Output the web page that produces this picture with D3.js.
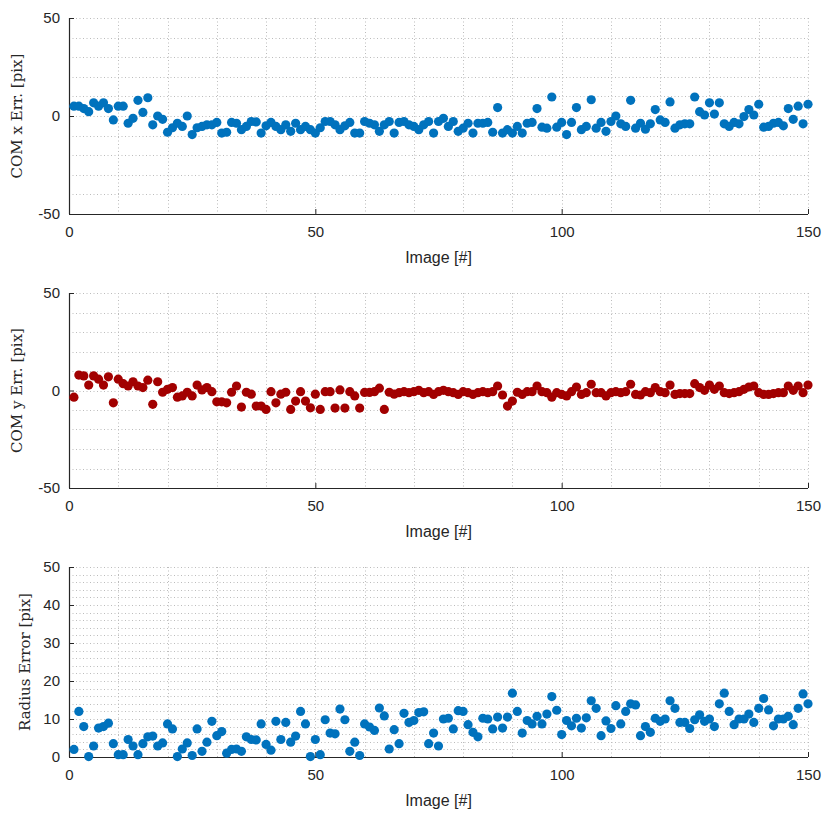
<!DOCTYPE html>
<html>
<head>
<meta charset="utf-8">
<script src="https://cdn.jsdelivr.net/npm/d3@7"></script>
<style>
  body { margin: 0; background: #fff; }
  svg { display: block; }
</style>
</head>
<body>
<div id="chart"></div>
<script>
// image index 1..150
const images = d3.range(1, 151);

const comXErr = [
  5, 5, 3.8, 2.2, 6.7, 5, 6.7, 3.8, -2, 5,
  5, -3.7, -1.2, 8, 1.8, 9.3, -4.5, 0, -1.7, -8.3,
  -6, -3.7, -5.3, 0, -9.5, -6, -5.3, -4.5, -4.5, -3.3,
  -8.7, -8.3, -3.3, -3.7, -7, -5.3, -2.8, -3, -8.7, -5,
  -3.3, -5.3, -7, -4.5, -7.8, -3.7, -7, -5.3, -7, -8.7,
  -6, -2.8, -2.8, -4.5, -7, -5, -3.3, -8.7, -8.7, -2.8,
  -3.7, -4.5, -7.8, -4.5, -2.8, -8.7, -3.3, -2.8, -4.5, -5.3,
  -7, -4.5, -2.8, -8.7, -2.8, -1.2, -5.3, -2.8, -7.8, -6.2,
  -3.7, -8.7, -3.7, -3.7, -3.3, -8.3, 4.3, -8.7, -7, -8.7,
  -5.3, -8.7, -3.7, -3.3, 3.8, -5.7, -6.2, 9.7, -5.7, -3.3,
  -9.5, -3.3, 4.3, -7, -5.3, 8.3, -6.2, -3.3, -7.8, -2.8,
  0, -4, -5.3, 8, -6.2, -3.7, -6.7, -4, 3.3, -2,
  -3.3, 7.2, -6.2, -4.5, -4, -4, 9.7, 2.2, 0.5, 6.7,
  1, 6.7, -4, -5.3, -3.3, -4, -0.3, 3.3, 0.5, 6,
  -5.7, -5.3, -3.7, -3.3, -5, 3.8, -1.7, 5, -4, 6
];

const comYErr = [
  -3.4, 7.9, 7.5, 2.8, 7.5, 5.8, 2.8, 7, -6.3, 5.8,
  3.5, 2.3, 4.5, 2.3, 1.5, 5.3, -7.1, 4.5, -0.9, 0.6,
  1.5, -3.4, -2.8, -0.9, -2.8, 2.8, 0.3, 1.5, -0.6, -5.8,
  -5.8, -6.3, -0.9, 2.3, -8.5, -0.9, -1.9, -8, -8, -9.7,
  -0.6, -6.3, -1.9, -0.9, -9.7, -5.4, -0.6, -5.4, -8.9, -1.9,
  -9.7, -0.6, -0.6, -9, 0.3, -9, -0.6, -2.8, -9, -1,
  -1, -0.6, 1.2, -9.7, -0.9, -1.9, -1.1, -0.6, -1.1, -0.6,
  0.1, -1.1, -0.6, -2, -0.6, 0.1, -0.6, -1.1, -2, -0.6,
  -1.1, -2, -1.1, -0.6, -1.1, -0.6, 2.3, -2.3, -8, -5.4,
  -0.9, -2, -0.6, -0.6, 2.3, -0.6, -1.1, -3.4, -1.1, -2,
  -2.8, -0.6, 1.8, -2, -1.1, 3.2, -1.1, -1.1, -2.8, -1.1,
  -0.6, -1.1, -0.6, 3.2, -2, -2.3, -0.6, -1.1, 1.5, -0.6,
  -1.1, 2.8, -2, -1.6, -1.6, -1.6, 3.5, 1.5, 0.1, 2.8,
  0.6, 2.3, -1.1, -1.6, -1.1, -0.6, 0.6, 1.8, 2.3, -1.1,
  -2, -2, -1.6, -1.1, -1.1, 2.3, 0.1, 2.3, -1.1, 2.8
];

const radiusErr = [
  2.0, 12.0, 8.0, 0.1, 2.9, 7.6, 8.0, 8.9, 3.5, 0.6,
  0.6, 4.6, 2.9, 0.6, 3.5, 5.3, 5.5, 2.9, 3.7, 8.7,
  7.4, 0.1, 2.1, 3.7, 0.4, 7.4, 1.5, 3.9, 9.4, 5.6,
  6.7, 1.0, 2.0, 2.1, 1.5, 5.3, 4.6, 4.5, 8.7, 3.3,
  1.8, 9.4, 4.6, 9.1, 3.9, 5.5, 12.0, 8.7, 0.1, 4.6,
  0.6, 9.8, 6.3, 6.1, 12.6, 9.8, 1.5, 3.9, 0.4, 8.7,
  7.9, 7.0, 12.9, 10.8, 2.1, 7.2, 3.5, 11.5, 9.1, 9.6,
  11.7, 11.9, 3.5, 6.3, 2.9, 10.0, 10.2, 7.4, 12.2, 12.0,
  8.5, 6.5, 5.3, 10.2, 10.0, 7.4, 10.5, 7.6, 10.5, 16.8,
  12.0, 6.3, 9.6, 8.7, 10.7, 8.7, 11.3, 15.9, 12.3, 5.9,
  9.6, 8.2, 10.2, 7.6, 10.3, 14.8, 12.8, 5.6, 9.5, 7.5,
  13.5, 8.7, 12.0, 14.0, 13.7, 5.6, 8.0, 6.5, 10.2, 9.4,
  10.0, 14.8, 12.8, 9.1, 9.1, 7.5, 9.8, 11.1, 9.4, 10.0,
  8.0, 14.0, 16.8, 12.0, 8.5, 10.0, 10.0, 11.3, 9.1, 12.8,
  15.4, 12.4, 8.2, 10.0, 10.0, 10.7, 8.5, 12.8, 16.6, 14.0
];

const xTicks = [0, 50, 100, 150];
const xLabel = "Image [#]";

const width = 830, height = 819;
const left = 69, right = 808;

const panels = [
  { values: comXErr, color: "#0072bd", label: "COM x Err. [pix]", domain: [-50, 50],
    ticks: [-50, 0, 50], minor: 10, top: 18, bottom: 214, labelX: 17 },
  { values: comYErr, color: "#a20000", label: "COM y Err. [pix]", domain: [-50, 50],
    ticks: [-50, 0, 50], minor: 10, top: 293, bottom: 488, labelX: 17 },
  { values: radiusErr, color: "#0072bd", label: "Radius Error [pix]", domain: [0, 50],
    ticks: [0, 10, 20, 30, 40, 50], minor: 2, top: 567, bottom: 757, labelX: 25 }
];

// plain hyphen minus like the original
const fmt = d => String(d);

const svg = d3.select("#chart").append("svg")
  .attr("width", width)
  .attr("height", height);

const x = d3.scaleLinear().domain([0, 150]).range([left, right]);

panels.forEach(p => {
  const y = d3.scaleLinear().domain(p.domain).range([p.bottom, p.top]);
  const g = svg.append("g");

  // dotted grid
  const grid = g.append("g")
    .attr("stroke", "#bcbcbc")
    .attr("stroke-width", 1)
    .attr("stroke-dasharray", "1,2.5");
  grid.selectAll("line.v").data(d3.range(10, 151, 10)).join("line")
    .attr("x1", d => Math.round(x(d)) + 0.5).attr("x2", d => Math.round(x(d)) + 0.5)
    .attr("y1", p.top).attr("y2", p.bottom);
  const hs = d3.range(p.domain[0], p.domain[1] + 0.001, p.minor).filter(v => v !== p.domain[0]);
  grid.selectAll("line.h").data(hs).join("line")
    .attr("x1", left).attr("x2", right)
    .attr("y1", d => Math.round(y(d)) + 0.5).attr("y2", d => Math.round(y(d)) + 0.5);

  // axes (no box)
  const yAxis = d3.axisLeft(y).tickValues(p.ticks).tickSize(-5).tickPadding(9).tickFormat(fmt);
  const xAxis = d3.axisBottom(x).tickValues(xTicks).tickSize(-5).tickPadding(12).tickFormat(fmt);

  const ya = g.append("g").attr("transform", `translate(${left},0)`).call(yAxis);
  const xa = g.append("g").attr("transform", `translate(0,${p.bottom})`).call(xAxis);
  [ya, xa].forEach(a => {
    a.select(".domain").attr("stroke", "#262626").attr("stroke-width", 1.2);
    a.selectAll(".tick line").attr("stroke", "#262626");
    a.selectAll(".tick text")
      .attr("fill", "#262626")
      .style("font-family", "'Liberation Sans', Arial, sans-serif")
      .style("font-size", "15px");
  });
  ya.select(".domain").attr("d", `M0.5,${p.top}V${p.bottom}`);
  xa.select(".domain").attr("d", `M${left},0.5H${right}`);

  // points
  g.append("g").selectAll("circle").data(images).join("circle")
    .attr("cx", d => x(d))
    .attr("cy", (d, i) => y(p.values[i]))
    .attr("r", 4.6)
    .attr("fill", p.color);

  // labels
  g.append("text")
    .attr("x", (left + right) / 2)
    .attr("y", p.bottom + 49)
    .attr("text-anchor", "middle")
    .attr("fill", "#262626")
    .style("font-family", "'Liberation Sans', Arial, sans-serif")
    .style("font-size", "16px")
    .text(xLabel);

  g.append("text")
    .attr("transform", `translate(${p.labelX},${(p.top + p.bottom) / 2}) rotate(-90)`)
    .attr("text-anchor", "middle")
    .attr("dy", "0.35em")
    .attr("fill", "#262626")
    .style("font-family", "'DejaVu Serif', 'Liberation Serif', serif")
    .style("font-size", "15px")
    .text(p.label);
});
</script>
</body>
</html>
